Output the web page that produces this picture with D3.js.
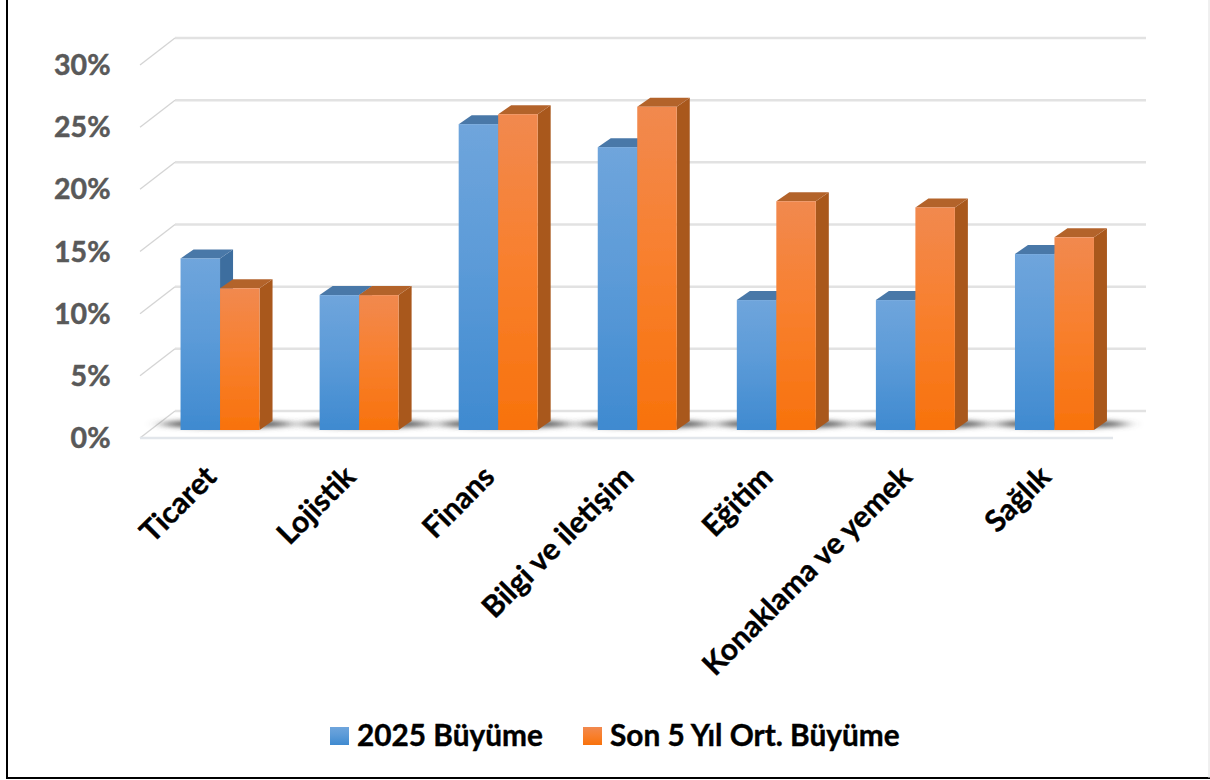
<!DOCTYPE html>
<html>
<head>
<meta charset="utf-8">
<script src="https://cdn.jsdelivr.net/npm/d3@7"></script>
<style>
  html, body { margin: 0; padding: 0; background: #fff; }
  svg { display: block; }
  text { font-family: Lato, "Open Sans", sans-serif; font-weight: 700; }
  .yAxis text { fill: #595959; stroke: #595959; stroke-width: 0.5px; font-size: 28.5px; }
  .xAxis text { fill: #000; stroke: #000; stroke-width: 0.4px; font-size: 30px; }
  .legend { fill: #000; stroke: #000; stroke-width: 0.4px; font-size: 29.8px; }
</style>
</head>
<body>
<script>
//chart data
var categories = ["Ticaret", "Lojistik", "Finans", "Bilgi ve iletişim", "Eğitim", "Konaklama ve yemek", "Sağlık"];
var seriesNames = ["2025 Büyüme", "Son 5 Yıl Ort. Büyüme"];
var growth2025 = [13.8, 10.85, 24.6, 22.75, 10.45, 10.45, 14.15];
var growth5y = [11.4, 10.85, 25.4, 26.0, 18.4, 17.9, 15.5];
var yTicks = [0, 5, 10, 15, 20, 25, 30];

var width = 1210, height = 780;

//fake 3d depth: wall/floor offset and bar offset
var wallDx = 35, wallDy = 27;
var barDx = 13, barDy = 9;
var floorY = 438; //front edge of the floor

var xScale = d3.scaleBand()
               .domain(categories)
               .range([150.5, 1124]);

var barWidth = 39.5;
var xSeries = d3.scaleBand()
                .domain([0, 1])
                .range([0, barWidth * 2]);
var groupLeft = (xScale.bandwidth() - barWidth * 2) / 2;

//y scale is on the plane of the bar fronts
var yScale = d3.scaleLinear()
               .domain([0, 30])
               .range([430, 57]);

var _svg = d3.select("body")
             .append("svg")
             .attr("width", width)
             .attr("height", height);

var defs = _svg.append("defs");

function addGradient(id, c1, c2, c3) {
    var g = defs.append("linearGradient")
                .attr("id", id)
                .attr("x1", 0).attr("y1", 0)
                .attr("x2", 0).attr("y2", 1);
    g.append("stop").attr("offset", "0%").attr("stop-color", c1);
    g.append("stop").attr("offset", "45%").attr("stop-color", c2);
    g.append("stop").attr("offset", "100%").attr("stop-color", c3);
}
addGradient("front0", "#6fa5dc", "#5c9bd8", "#3f8ad0");
addGradient("front1", "#f1894f", "#f8802f", "#f8720c");

defs.append("filter").attr("id", "shadowBlur")
    .attr("x", "-30%").attr("y", "-150%").attr("width", "160%").attr("height", "400%")
    .append("feGaussianBlur").attr("stdDeviation", "8 2.5");
defs.append("filter").attr("id", "soft")
    .append("feGaussianBlur").attr("stdDeviation", 0.6);

var colors = [
    {front: "url(#front0)", top: "#4a78a8", side: "#3e6e9f"},
    {front: "url(#front1)", top: "#b3632c", side: "#a9591f"}
];

//page frame, only the sides the picture shows
_svg.append("path")
    .attr("d", "M7 0 V778 H" + width)
    .attr("fill", "none")
    .attr("stroke", "#000")
    .attr("stroke-width", 2);
_svg.append("line")
    .attr("x1", width - 1).attr("x2", width - 1)
    .attr("y1", 0).attr("y2", 778)
    .attr("stroke", "#e0e0e0");

//grid on the back wall and left wall
var grid = _svg.append("g").attr("class", "grid");
var backY = function(d) { return floorY - 27 - (yScale(0) - yScale(d)); };

grid.selectAll("line.back")
    .data(yTicks)
    .enter()
    .append("line")
    .attr("class", "back")
    .attr("x1", 175).attr("x2", 1146)
    .attr("y1", backY).attr("y2", backY)
    .attr("stroke", "#e2e2e2")
    .attr("stroke-width", 2.5);

grid.selectAll("line.wall")
    .data(yTicks)
    .enter()
    .append("line")
    .attr("class", "wall")
    .attr("x1", 175 - wallDx).attr("x2", 175)
    .attr("y1", function(d) { return backY(d) + wallDy; })
    .attr("y2", backY)
    .attr("stroke", "#d4d4d4")
    .attr("stroke-width", 1.3);

//front edge of the floor
grid.append("line")
    .attr("x1", 175 - wallDx).attr("x2", 1113)
    .attr("y1", floorY).attr("y2", floorY)
    .attr("stroke", "#e2e6eb")
    .attr("stroke-width", 2.5);

//shadows on the floor
_svg.append("g")
    .selectAll("ellipse")
    .data(categories)
    .enter()
    .append("ellipse")
    .attr("cx", function(d) { return xScale(d) + xScale.bandwidth() / 2 + 7; })
    .attr("cy", 424)
    .attr("rx", 66)
    .attr("ry", 4)
    .attr("fill", "#555")
    .attr("filter", "url(#shadowBlur)");

//bars, one group per category
var bars = _svg.append("g").attr("filter", "url(#soft)");

categories.forEach(function(cat, i) {
    [growth2025[i], growth5y[i]].forEach(function(v, s) {
        var x0 = xScale(cat) + groupLeft + xSeries(s);
        var x1 = x0 + xSeries.bandwidth();
        var yt = yScale(v), yb = yScale(0);
        var b = bars.append("g").attr("class", "bar");

        b.append("path") //side
         .attr("d", "M" + x1 + " " + yt + " L" + (x1 + barDx) + " " + (yt - barDy) +
                    " L" + (x1 + barDx) + " " + (yb - barDy) + " L" + x1 + " " + yb + " Z")
         .attr("fill", colors[s].side);

        b.append("path") //top
         .attr("d", "M" + x0 + " " + yt + " L" + (x0 + barDx) + " " + (yt - barDy) +
                    " L" + (x1 + barDx) + " " + (yt - barDy) + " L" + x1 + " " + yt + " Z")
         .attr("fill", colors[s].top);

        b.append("rect") //front
         .attr("x", x0)
         .attr("y", yt)
         .attr("width", x1 - x0)
         .attr("height", yb - yt)
         .attr("fill", colors[s].front);
    });
});

//axes
var yAxis = d3.axisLeft(yScale)
              .tickValues(yTicks)
              .tickFormat(function(d) { return d + "%"; })
              .tickSize(0)
              .tickPadding(0);

_svg.append("g")
    .attr("class", "yAxis")
    .attr("transform", "translate(110.5,8.5)")
    .call(yAxis)
    .call(function(g) { g.select(".domain").remove(); });

var xAxis = d3.axisBottom(xScale)
              .tickSize(0)
              .tickPadding(0);

_svg.append("g")
    .attr("class", "xAxis")
    .attr("transform", "translate(0,462)")
    .call(xAxis)
    .call(function(g) { g.select(".domain").remove(); })
    .selectAll("text")
    .attr("text-anchor", "end")
    .attr("dy", "0.35em")
    .attr("dx", -13)
    .attr("y", 0)
    .attr("transform", "rotate(-45)");

//legend
var legendX = [330, 583];
var legendSwatch = ["url(#front0)", "url(#front1)"];
var legend = _svg.append("g");

seriesNames.forEach(function(name, i) {
    legend.append("rect")
          .attr("x", legendX[i])
          .attr("y", 727)
          .attr("width", 19)
          .attr("height", 18)
          .attr("fill", legendSwatch[i]);
    legend.append("text")
          .attr("class", "legend")
          .attr("x", legendX[i] + 27)
          .attr("y", 746)
          .text(name);
});
</script>
</body>
</html>
